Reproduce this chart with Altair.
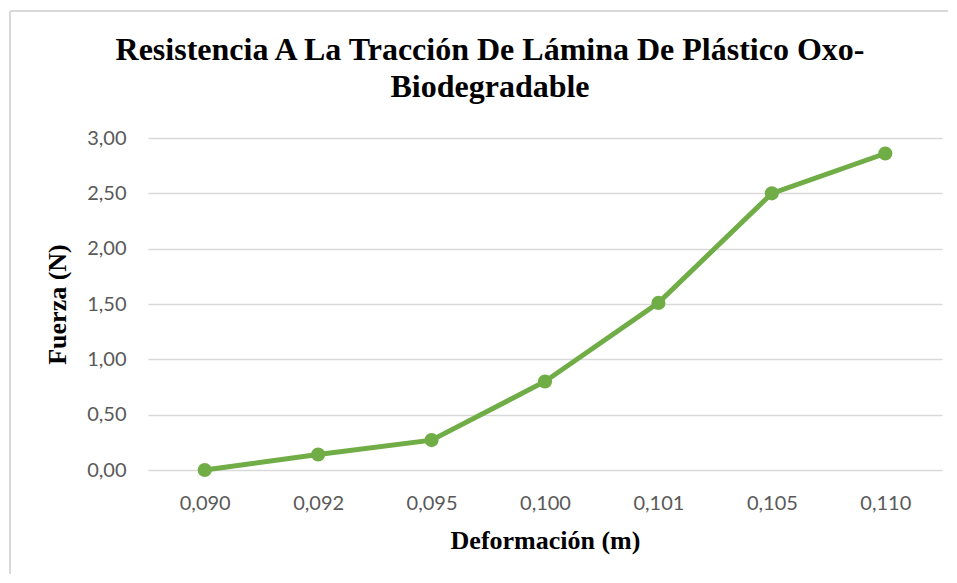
import altair as alt
import pandas as pd

deformacion = ["0,090", "0,092", "0,095", "0,100", "0,101", "0,105", "0,110"]
fuerza = [0.00, 0.14, 0.27, 0.80, 1.51, 2.50, 2.86]
y_ticks = [0, 0.5, 1.0, 1.5, 2.0, 2.5, 3.0]

df = pd.DataFrame({"Deformación": deformacion, "Fuerza": fuerza})

GREEN = "#70ad47"
GRID = "#d9d9d9"
LABEL = "#595959"

base = alt.Chart(df).encode(
    x=alt.X(
        "Deformación:O",
        sort=None,
        title="Deformación (m)",
        axis=alt.Axis(
            labelAngle=0,
            grid=False,
            domain=False,
            ticks=False,
            labelFont="Lato",
            labelFontSize=20,
            labelColor=LABEL,
            labelPadding=23,
            titleFont="Liberation Serif",
            titleFontSize=26,
            titleFontWeight="bold",
            titleColor="#000000",
            titlePadding=14,
        ),
    ),
    y=alt.Y(
        "Fuerza:Q",
        title="Fuerza (N)",
        scale=alt.Scale(domain=[0, 3], nice=False),
        axis=alt.Axis(
            values=y_ticks,
            labelExpr="replace(format(datum.value, '.2f'), '.', ',')",
            grid=True,
            gridColor=GRID,
            gridWidth=1.5,
            domain=False,
            ticks=False,
            labelFont="Lato",
            labelFontSize=20,
            labelColor=LABEL,
            labelPadding=22,
            titleFont="Liberation Serif",
            titleFontSize=26,
            titleFontWeight="bold",
            titleColor="#000000",
            titlePadding=16,
        ),
    ),
)

line = base.mark_line(color=GREEN, strokeWidth=5)
points = base.mark_point(filled=True, color=GREEN, size=200, opacity=1)

border_top = alt.Chart(df).mark_rule(color=GRID, strokeWidth=2).encode(
    x=alt.value(-138), x2=alt.value(800), y=alt.value(-127)
)
border_left = alt.Chart(df).mark_rule(color=GRID, strokeWidth=2).encode(
    x=alt.value(-138), y=alt.value(-127), y2=alt.value(436)
)

chart = (
    alt.layer(border_top, border_left, line, points)
    .properties(
        width=794,
        height=332,
        background="white",
        title=alt.TitleParams(
            text=["Resistencia A La Tracción De Lámina De Plástico Oxo-", "Biodegradable"],
            font="Liberation Serif",
            fontSize=32,
            fontWeight="bold",
            color="#000000",
            anchor="middle",
            dx=-55,
            offset=-94,
            lineHeight=37,
        ),
        autosize=alt.AutoSizeParams(type="pad"),
        padding={"left": 1, "top": 2, "right": 0, "bottom": 0},
    )
    .configure_view(stroke="transparent", strokeWidth=0)
)

chart.save("out.html", embed_options={"renderer": "svg", "actions": False})
